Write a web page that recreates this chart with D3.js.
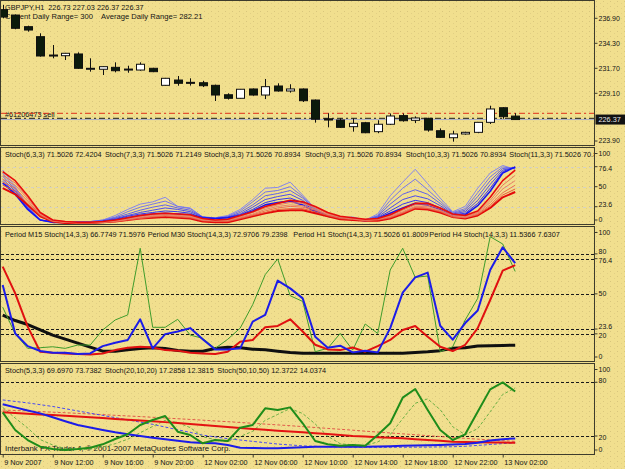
<!DOCTYPE html>
<html>
<head>
<meta charset="utf-8">
<script src="https://cdn.jsdelivr.net/npm/d3@7"></script>
<style>
  body { margin: 0; background: #f1df8e; }
  svg text { font-family: "Liberation Sans", Arial, sans-serif; font-size: 7.3px; fill: #141414; white-space: pre; }
</style>
</head>
<body>
<div id="chart"></div>
<script>
// ---- data ----
// GBPJPY H1 candles, bar 0 = 9 Nov 2007 08:00
var openP  = [237.80,237.24,236.03,234.99,233.08,233.01,233.19,231.70,231.60,231.80,231.60,231.52,231.70,229.93,230.48,230.24,230.20,229.93,228.95,228.58,229.55,228.92,229.86,229.34,229.55,228.40,226.45,226.32,225.63,226.04,225.11,225.88,226.78,226.29,226.50,225.21,224.48,224.87,225.04,226.08,227.60,226.73];
var highP  = [238.30,237.30,236.13,235.34,234.12,233.30,233.36,232.74,231.90,232.32,231.97,232.32,231.75,230.70,230.90,230.66,230.40,230.00,229.10,229.55,229.60,230.59,230.14,230.04,229.60,228.45,227.02,226.50,226.50,226.10,226.30,227.00,227.00,226.70,226.55,225.45,225.21,225.10,226.10,227.81,227.65,227.03];
var lowP   = [236.90,235.76,235.51,232.91,232.74,232.56,231.65,231.35,231.00,231.28,231.24,231.45,231.30,229.90,229.89,229.90,229.75,228.30,228.45,228.55,228.85,228.50,229.27,229.17,228.20,226.05,225.56,225.50,225.11,224.95,224.95,225.80,226.15,226.00,225.11,224.48,224.07,224.80,224.95,225.91,226.45,226.37];
var closeP = [237.03,235.86,235.68,232.98,233.06,233.26,231.70,231.70,231.87,231.45,231.62,232.12,231.35,230.66,230.14,230.22,229.89,228.92,228.58,229.52,228.92,229.79,229.34,229.55,228.33,226.40,226.32,225.56,225.98,225.00,225.88,226.74,226.25,226.53,225.28,224.52,224.87,225.04,226.08,227.47,226.67,226.37];
var priceTicks = [236.90, 234.30, 231.70, 229.10, 223.90];
var bidPrice = 226.37;
var orderPrice = 226.50;
var stopPrice = 227.02;

// pane 2: rainbow of stochastics (blue = main lines, red = signal lines)
var blueLines = [
  [72,50,25,6,4,4,4,4,6,12,20,27,30,36,24,22,10,9,12,20,33,48,49,56,39,21,12,9,10,6,14,38,56,73,54,35,17,24,48,68,78,73],
  [68,48,24,6,4,4,4,4,6,10,17,23,27,31,24,21,10,9,11,18,30,43,45,50,37,21,12,9,9,6,12,32,48,60,46,31,16,21,42,63,76,74],
  [64,46,23,6,4,4,4,4,5,9,14,19,23,26,22,19,10,8,10,16,26,38,41,45,35,20,12,9,9,6,11,27,40,46,40,28,15,19,37,58,74,75],
  [60,44,22,6,4,3,3,3,5,8,12,16,19,22,20,17,10,8,10,14,23,33,37,40,32,19,11,9,8,6,10,22,33,38,34,25,14,17,32,53,72,75],
  [57,42,21,6,3,3,3,3,4,7,11,14,16,18,17,15,9,8,9,13,20,29,33,35,29,18,11,8,8,5,9,18,27,32,29,22,13,15,28,48,70,76],
  [55,40,20,6,3,3,3,3,4,6,9,12,14,15,14,13,9,8,9,12,18,26,29,31,26,17,11,8,7,5,8,15,22,28,26,20,12,13,25,44,68,76]
];
var redLines = [
  [70,58,38,16,6,4,3,3,4,6,9,12,14,15,14,13,8,6,7,12,17,24,28,32,30,24,16,11,9,7,8,13,21,28,28,22,14,12,18,36,58,72],
  [65,55,36,15,6,4,3,3,4,5,8,11,13,14,13,12,7,6,6,11,16,22,26,29,28,22,15,10,8,7,8,12,19,26,26,21,13,11,16,32,52,65],
  [60,52,34,14,5,3,3,3,3,5,7,10,12,13,12,11,6,5,6,10,14,20,24,26,25,20,14,10,8,6,7,11,17,24,24,19,12,10,15,29,47,58],
  [56,48,31,13,5,3,2,2,3,4,7,9,11,12,11,10,6,5,5,9,13,18,22,24,23,19,13,9,7,6,7,10,16,23,22,18,11,9,14,26,42,52],
  [52,44,28,12,4,3,2,2,3,4,6,8,10,11,10,9,5,4,4,8,12,16,20,21,21,17,12,8,7,5,6,9,15,22,21,17,10,9,13,24,39,47],
  [48,40,26,11,4,2,2,2,3,4,6,8,9,10,9,8,4,3,3,7,11,15,18,19,19,15,11,7,6,5,5,8,14,21,20,16,10,8,12,22,36,43]
];
var pane2Levels = [76.4, 50, 23.6];
var pane2Ticks = [100, 76.4, 50, 23.6, 0];
var pane2Heads = ["Stoch(6,3,3) 71.5026 72.4204", "Stoch(7,3,3) 71.5026 71.2149", "Stoch(8,3,3) 71.5026 70.8934",
                  "Stoch(9,3,3) 71.5026 70.8934", "Stoch(10,3,3) 71.5026 70.8934", "Stoch(11,3,3) 71.5026 70.8"];

// pane 3: stochastic(14,3,3) of several periods
var m15 = [40,20,9.1,9.6,10.3,9.1,11.6,11.6,22.9,30.4,34.2,84.2,24.9,24.9,30.9,19.1,16.6,9.1,15.9,24.3,41.9,64.4,76.2,48.6,44.3,6.6,9.1,20.3,7.8,27.4,20.3,67.9,84.2,62.4,63.4,6.6,10.3,30.4,46.6,92.9,87.4,66.8];
var m30 = [56.6,20.3,10.8,7.1,5.8,5.8,4.8,5.3,10.8,13.3,15.4,30.9,9.1,19.8,21.8,24.3,15.9,8.3,8.3,9.1,29.2,34.2,59.9,54.1,46.6,17.8,9.6,11.1,6.1,7.4,6.1,24.3,50.9,62.4,65.9,26.1,15.6,28.1,37.5,67.9,84.9,73.0];
var h1  = [70.4,50.4,25.4,6.6,5.8,5.3,4.8,4.5,5.3,7.8,9.6,10.3,9.8,7.8,7.4,5.8,5.3,4.8,6.6,14.1,15.4,24.9,25.9,30.9,21.8,11.8,8.3,7.8,9.8,6.6,10.8,15.4,22.9,25.9,17.8,10.3,7.1,11.8,24.3,45.4,67.4,71.5];
var h4  = [34,30,27,23,19,16,13,10,7,7,8,9,9.5,9,7.5,7,7,9,10,9.5,8.5,8,7,6,5.5,5.5,5.5,5.5,5.5,5.5,5.5,5.5,5.5,6,6.5,7.4,9.1,9.6,10.9,11.1,11.3,11.5];
var pane3Levels = [80, 76.4, 50, 23.6, 20];
var pane3Ticks = [100, 80, 76.4, 50, 23.6, 20, 0];
var pane3Heads = ["Period M15 Stoch(14,3,3) 66.7749 71.5976", "Period M30 Stoch(14,3,3) 72.9706 79.2398",
                  "Period H1 Stoch(14,3,3) 71.5026 61.8009", "Period H4 Stoch(14,3,3) 11.5366 7.6307"];

// pane 4: three stochastics, main (solid) and signal (dashed)
var st5main  = [46.4,26.7,15.5,8.0,5.4,4.3,5.4,6.9,10.7,16.6,21.9,32.3,37.9,42.3,24.8,21.1,11.8,15.5,14.4,29.3,32.3,50.9,49.1,52.0,34.2,14.4,10.7,9.2,9.9,9.2,21.1,34.2,62.8,72.5,49.1,26.7,15.5,21.9,47.2,72.1,79.9,69.7];
var st5sig   = [52,40,29,16,10,6,5,5.5,7.7,11.4,16.4,23.6,30.7,37.5,35,29.4,19.2,15.9,13.5,19.4,25.3,37.5,44.1,50.7,45.1,33.5,19.8,11.4,9.9,9.4,13.4,21.5,39.4,56.5,61.5,49.4,30.4,21.4,28.2,47.1,66.4,73.7];
var st20main = [55.4,52,48.5,45.3,41,36.5,32.3,29.5,26.8,24.1,22,20,18.1,16.3,14.6,12.9,12.3,11.8,9.9,6.9,6.6,6.4,6.2,6.8,7.4,8,8,8,8,8,8.2,8.5,9,9.3,9.6,10,10.5,11,12.5,15,16.5,17.3];
var st20sig  = [60.3,58.6,57,55,53,50.5,48,45.5,43,40.5,38,35.5,33,30,27,24,21,19,17,15.5,14,12.5,11,10,9,8.5,8,7.8,7.6,7.5,7.4,7.4,7.4,7.5,7.6,7.8,8,8.5,9.5,10.5,11.5,12.4];
var st50main = [46.4,45.6,44.9,44.1,43.4,42.6,41.7,40.9,40,39.1,38.2,37.4,36.5,35.5,34.4,33.4,32.3,31.2,30,28.9,27.8,26.9,26,25,24.1,23.1,22.1,21,20,19.4,18.7,18.1,17.4,16.5,15.6,14.6,13.7,13.4,13.1,12.8,12.6,12.4];
var st50sig  = [49,48.5,48,47.3,46.6,46,45.3,44.6,43.9,43.1,42.4,41.7,40.9,40.1,39.3,38.5,37.7,36.8,36,35.1,34.2,33.3,32.4,31.5,30.5,29.5,28.5,27.5,26.5,25.4,24.4,23.4,22.4,21.4,20.4,19.4,18.3,17.4,16.5,15.6,14.8,14.0];
var pane4Levels = [80, 20];
var pane4Ticks = [100, 80, 20, 0];
var pane4Heads = ["Stoch(5,3,3) 69.6970 73.7382", "Stoch(20,10,20) 17.2858 12.3815", "Stoch(50,10,50) 12.3722 14.0374"];

// time axis
var timeIdx = [0, 4, 8, 12, 16, 20, 24, 28, 32, 36, 40];
var timeLabels = ["9 Nov 2007", "9 Nov 12:00", "9 Nov 16:00", "9 Nov 20:00", "12 Nov 02:00", "12 Nov 06:00",
                  "12 Nov 10:00", "12 Nov 14:00", "12 Nov 18:00", "12 Nov 22:00", "13 Nov 02:00"];

// ---- layout ----
var width = 625, height = 469;
var axisX = 594.5;
var bg = "#f1df8e", frame = "#3e3c2c";

var svg = d3.select("#chart").append("svg")
    .attr("width", width)
    .attr("height", height);

var defs = svg.append("defs");
var pat = defs.append("pattern")
    .attr("id", "dots").attr("patternUnits", "userSpaceOnUse")
    .attr("width", 7).attr("height", 5);
pat.append("rect").attr("width", 7).attr("height", 5).attr("fill", bg);
pat.append("rect").attr("x", 1).attr("y", 1).attr("width", 1).attr("height", 1).attr("fill", "#d9c67c");
pat.append("rect").attr("x", 5).attr("y", 3).attr("width", 1).attr("height", 1).attr("fill", "#e2cf84");

svg.append("rect").attr("width", width).attr("height", height).attr("fill", "url(#dots)");

var x = d3.scaleLinear().domain([0, 41]).range([2.7, 515.2]);
var bodyW = (x(1) - x(0)) * 0.6;

// panes: top/bottom of frame and value range
var panes = [
  {top: 0.5,   bottom: 145.5, y: d3.scaleLinear().domain([223.9, 236.9]).range([143.3, 18.3])},
  {top: 147.5, bottom: 224.5, y: d3.scaleLinear().domain([0, 100]).range([224.6, 148.8])},
  {top: 226.5, bottom: 361.5, y: d3.scaleLinear().domain([0, 100]).range([360.5, 227.2])},
  {top: 363.5, bottom: 454.5, y: d3.scaleLinear().domain([0, 100]).range([453.9, 364.4])}
];

panes.forEach(function(p, k) {
  defs.append("clipPath").attr("id", "clip" + k)
    .append("rect").attr("x", 1).attr("y", p.top + 0.5)
    .attr("width", axisX - 1.5).attr("height", p.bottom - p.top - 1);
  p.g = svg.append("g").attr("clip-path", "url(#clip" + k + ")");
});

function drawLevels(p, levels, color, dash) {
  p.g.selectAll(null).data(levels).enter().append("line")
    .attr("x1", 1).attr("x2", axisX)
    .attr("y1", function(d) { return Math.round(p.y(d)) + 0.5; })
    .attr("y2", function(d) { return Math.round(p.y(d)) + 0.5; })
    .attr("stroke", color).attr("stroke-width", 1)
    .attr("stroke-dasharray", dash);
}

function drawHeads(p, texts, xs, yy) {
  p.g.selectAll(null).data(texts).enter().append("text")
    .attr("x", function(d, i) { return xs[i]; })
    .attr("y", yy)
    .text(function(d) { return d; });
}

function drawSeries(p, values, color, w, dash) {
  var line = d3.line()
    .x(function(d, i) { return x(i); })
    .y(function(d) { return p.y(d); });
  p.g.append("path").datum(values)
    .attr("d", line)
    .attr("fill", "none")
    .attr("stroke", color)
    .attr("stroke-width", w)
    .attr("stroke-linejoin", "round")
    .attr("stroke-dasharray", dash || null);
}

// ---- pane 1: candles ----
var p1 = panes[0];
p1.g.append("text").attr("x", 5).attr("y", 9.5).text("GBPJPY,H1  226.73 227.03 226.37 226.37");
p1.g.append("text").attr("x", 5).attr("y", 18.5).style("font-size", "7.6px")
  .text("Current Daily Range= 300    Average Daily Range= 282.21");
p1.g.append("text").attr("x", 5).attr("y", 116.5).text("#61206473 sell");

function hline(p, price, color, w, dash) {
  p.g.append("line")
    .attr("x1", 1).attr("x2", axisX)
    .attr("y1", p.y(price)).attr("y2", p.y(price))
    .attr("stroke", color).attr("stroke-width", w)
    .attr("stroke-dasharray", dash || null);
}
hline(p1, stopPrice, "#e0301c", 1, "6,3,2,3");
hline(p1, orderPrice, "#1a1a1a", 1, "6,3,2,3");
hline(p1, bidPrice, "#a7aec6", 1);

var candles = p1.g.selectAll("g.candle").data(openP).enter().append("g").attr("class", "candle");
candles.append("line")
  .attr("x1", function(d, i) { return Math.round(x(i)) + 0.5; })
  .attr("x2", function(d, i) { return Math.round(x(i)) + 0.5; })
  .attr("y1", function(d, i) { return p1.y(highP[i]); })
  .attr("y2", function(d, i) { return p1.y(lowP[i]); })
  .attr("stroke", "#101010").attr("stroke-width", 1);
candles.append("rect")
  .attr("x", function(d, i) { return Math.round(x(i) - bodyW / 2) + 0.5; })
  .attr("y", function(d, i) { return p1.y(Math.max(openP[i], closeP[i])); })
  .attr("width", Math.round(bodyW))
  .attr("height", function(d, i) { return Math.max(1, Math.abs(p1.y(openP[i]) - p1.y(closeP[i]))); })
  .attr("fill", function(d, i) { return closeP[i] >= openP[i] ? "#ffffff" : "#0b1a0b"; })
  .attr("stroke", "#101010").attr("stroke-width", 1);

// ---- pane 2: rainbow ----
var p2 = panes[1];
drawLevels(p2, pane2Levels, "#d6d2c2", "3,3");
drawHeads(p2, pane2Heads, [5, 105, 204, 305, 405.7, 509.3], 157);
var blueCols = ["#8686ee", "#7676ea", "#6262ea", "#4c4cee", "#3434f2", "#1414f4"];
var blueW = [1, 1, 1, 1, 1, 1.6];
var redCols = ["#e80c0c", "#ea7a5c", "#e8806a", "#ea6e52", "#e8583c", "#e40a0a"];
var redW = [1.6, 1, 1, 1, 1, 2];
blueLines.forEach(function(v, k) { drawSeries(p2, v, blueCols[k], blueW[k]); });
redLines.slice().reverse().forEach(function(v, k) { drawSeries(p2, v, redCols[5 - k], redW[5 - k]); });

// ---- pane 3 ----
var p3 = panes[2];
drawLevels(p3, pane3Levels, "#1a1a1a", "3,2");
drawHeads(p3, pane3Heads, [5, 147.7, 293.3, 429.3], 237);
drawSeries(p3, h4, "#101010", 3);
drawSeries(p3, m15, "#3f9c2c", 1);
drawSeries(p3, h1, "#e01010", 2);
drawSeries(p3, m30, "#1c1ce8", 2);

// ---- pane 4 ----
var p4 = panes[3];
drawLevels(p4, pane4Levels, "#1a1a1a", "3,2");
drawHeads(p4, pane4Heads, [5, 105, 217.3], 373);
p4.g.append("text").attr("x", 5).attr("y", 451).style("font-size", "7.85px")
  .text("Interbank FX Trader 4, \u00a9 2001-2007 MetaQuotes Software Corp.");
drawSeries(p4, st50sig, "#e25a4a", 1, "3,2");
drawSeries(p4, st20sig, "#4a4af0", 1, "3,2");
drawSeries(p4, st5sig, "#6cb044", 1, "3,2");
drawSeries(p4, st50main, "#e41212", 2);
drawSeries(p4, st20main, "#1c1ce8", 2);
drawSeries(p4, st5main, "#1f8c1a", 2);

// ---- frames ----
panes.forEach(function(p) {
  svg.append("rect")
    .attr("x", 0.5).attr("y", p.top)
    .attr("width", axisX - 0.5).attr("height", p.bottom - p.top)
    .attr("fill", "none").attr("stroke", frame).attr("stroke-width", 1);
});

// ---- right axes ----
// labels close together are pushed a little apart
var nudge = {"80": -2, "76.4": 2.2, "23.6": -2.2, "20": 2};
function rightAxis(p, ticks, fmt) {
  var g = svg.append("g")
    .attr("transform", "translate(" + axisX + ",0)")
    .call(d3.axisRight(p.y).tickValues(ticks).tickSize(3).tickPadding(1).tickFormat(fmt));
  g.select(".domain").remove();
  g.selectAll(".tick")
    .attr("transform", function(d) {
      var yy = Math.min(Math.max(p.y(d), p.top + 6), p.bottom - 4.5);
      return "translate(0," + yy + ")";
    });
  g.selectAll(".tick line").attr("stroke", frame);
  g.selectAll(".tick text")
    .attr("y", function(d) { return nudge[String(d)] || 0; })
    .style("font-family", "Liberation Sans, Arial, sans-serif")
    .style("font-size", "7px").attr("fill", "#141414");
  return g;
}
rightAxis(p1, priceTicks, d3.format(".2f"));
rightAxis(p2, pane2Ticks, function(d) { return String(d); });
rightAxis(p3, pane3Ticks, function(d) { return String(d); });
rightAxis(p4, pane4Ticks, function(d) { return String(d); });

// bid price box
svg.append("rect")
  .attr("x", axisX + 1).attr("y", p1.y(bidPrice) - 5)
  .attr("width", 31).attr("height", 10).attr("fill", "#121212");
svg.append("text")
  .attr("x", axisX + 4).attr("y", p1.y(bidPrice) + 2.8)
  .style("fill", "#e8e8e8")
  .text(d3.format(".2f")(bidPrice));

// ---- time axis ----
var tg = svg.append("g")
  .attr("transform", "translate(0," + panes[3].bottom + ")")
  .call(d3.axisBottom(x).tickValues(timeIdx).tickSize(3).tickPadding(2)
    .tickFormat(function(d, k) { return timeLabels[k]; }));
tg.select(".domain").remove();
tg.selectAll(".tick line").attr("stroke", frame);
tg.selectAll(".tick text")
  .attr("text-anchor", "start").attr("x", 1)
  .style("font-family", "Liberation Sans, Arial, sans-serif")
  .style("font-size", "7.3px").attr("fill", "#141414");
</script>
</body>
</html>
